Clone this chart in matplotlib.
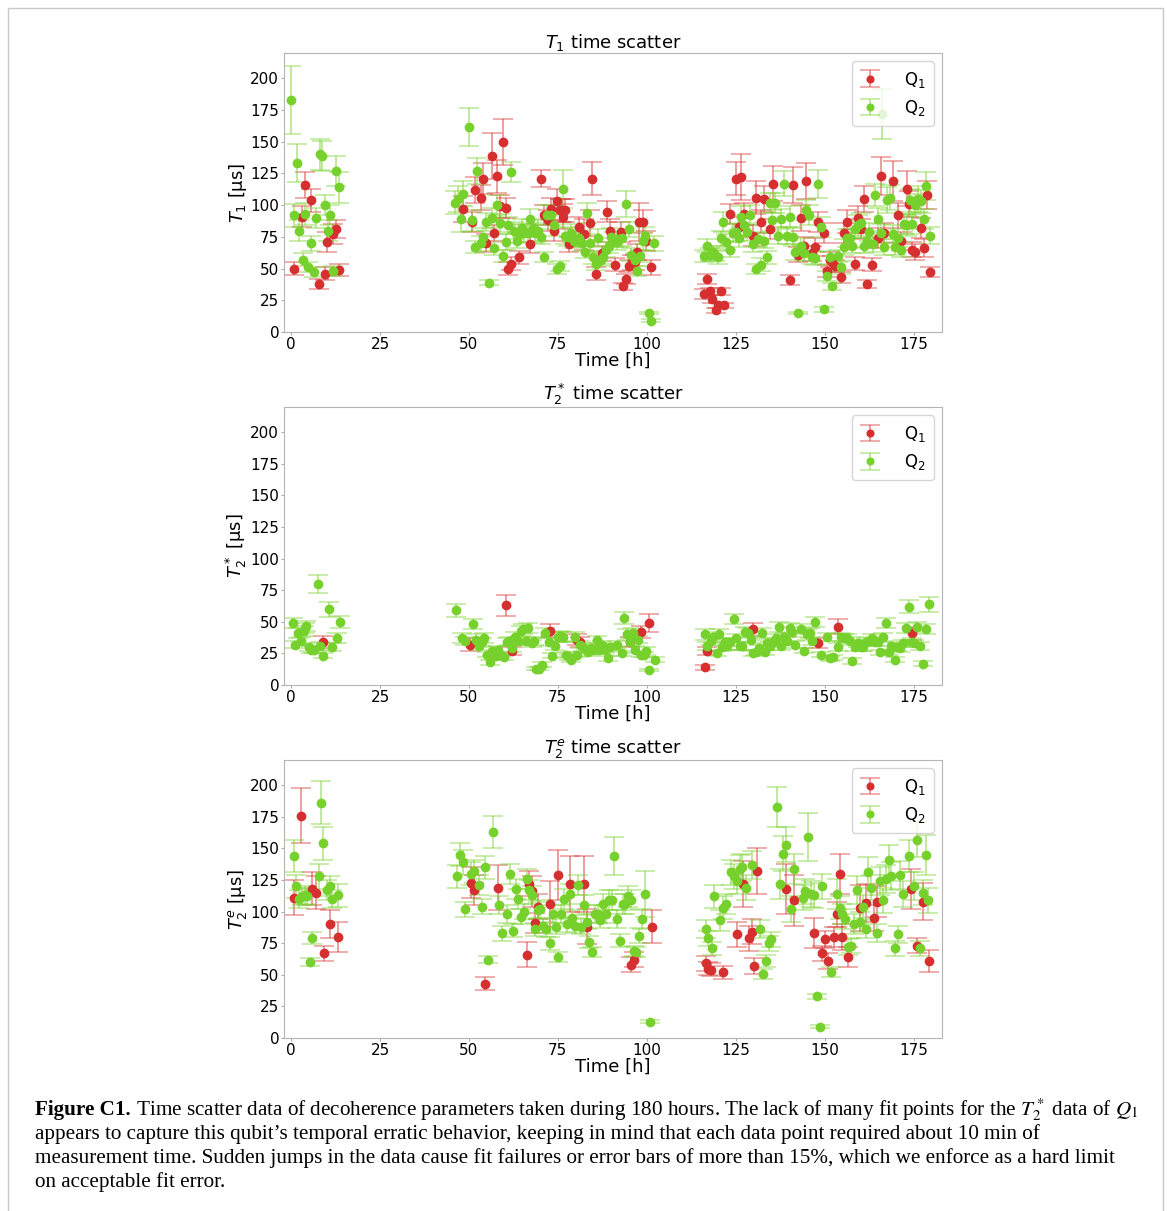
#!/usr/bin/env python3
import numpy as np
import matplotlib
matplotlib.use("Agg")
import matplotlib.pyplot as plt
from matplotlib.patches import Rectangle
from matplotlib.colors import to_rgba

# Each row: time [h], value [us], error [us]
t1_q1 = [
    [0.8, 50, 5], [3.2, 91, 8], [4.0, 116, 10], [5.5, 104, 9], [7.9, 38, 4], [9.5, 46, 5],
    [10.2, 71, 8], [11.8, 77, 8], [12.6, 81, 7], [13.4, 49, 5],
    [48.4, 97, 10], [50.8, 87, 8], [51.6, 112, 10], [53.3, 106, 10], [54.0, 121, 12], [54.8, 70, 7],
    [56.4, 139, 18], [57.1, 78, 6], [58.0, 123, 13], [58.7, 99, 9], [59.5, 150, 18], [60.3, 98, 8],
    [61.1, 50, 5], [61.8, 54, 5], [64.1, 59, 5], [67.2, 69, 7], [70.3, 121, 7], [71.1, 92, 8],
    [72.3, 88, 8], [73.1, 97, 9], [74.0, 80, 8], [74.7, 103, 10], [75.5, 96, 9], [76.3, 96, 9],
    [76.4, 91, 10], [77.1, 96, 9], [78.0, 69, 6], [81.0, 83, 8], [82.4, 77, 12], [84.1, 86, 10],
    [84.7, 121, 13], [85.6, 46, 5], [87.3, 62, 6], [88.8, 95, 8], [89.7, 80, 9], [91.2, 53, 5],
    [92.7, 79, 8], [93.3, 36, 3], [94.2, 42, 4], [95.0, 52, 5], [95.8, 55, 6], [96.6, 55, 6],
    [97.3, 63, 6], [97.9, 87, 15], [98.9, 87, 9], [99.9, 72, 8], [101.2, 51, 6],
    [116.0, 30, 4], [116.8, 42, 4], [117.7, 32, 3], [118.4, 26, 3], [119.4, 17, 2], [120.1, 21, 2],
    [120.9, 32, 3], [121.6, 21, 2],
    [123.3, 93, 8], [125.0, 121, 13], [125.8, 83, 8], [126.6, 122, 18], [127.4, 93, 9], [129.8, 76, 8],
    [130.6, 106, 13], [132.1, 87, 9], [132.9, 105, 10], [134.6, 81, 8], [135.4, 117, 14], [140.2, 41, 4],
    [141.0, 116, 14], [142.5, 61, 6], [143.3, 90, 10], [144.1, 68, 7], [144.9, 119, 14], [146.4, 62, 6],
    [147.2, 67, 7], [148.0, 87, 8], [149.7, 78, 8], [150.6, 48, 5], [151.4, 57, 6], [152.2, 55, 5],
    [153.0, 52, 5], [154.6, 43, 4], [155.5, 78, 8], [156.2, 87, 9], [158.6, 54, 5], [159.4, 90, 9],
    [160.2, 81, 8], [161.0, 105, 10], [161.8, 38, 3], [163.4, 53, 5], [165.1, 74, 8], [165.9, 123, 15],
    [166.7, 78, 8], [169.1, 119, 16], [170.7, 92, 10], [171.4, 72, 7], [173.1, 113, 14], [173.8, 101, 10],
    [174.7, 65, 6], [175.5, 63, 6], [177.1, 82, 8], [177.8, 66, 7], [178.7, 108, 11], [179.5, 47, 4],
]

t1_q2 = [
    [0.0, 183, 27], [0.8, 92, 9], [1.6, 133, 15], [2.1, 80, 8], [3.3, 57, 5], [4.0, 93, 9],
    [4.8, 51, 4], [5.6, 70, 6], [6.4, 47, 4], [7.1, 90, 8], [8.0, 140, 12], [8.7, 139, 12],
    [9.6, 100, 8], [10.3, 80, 8], [11.0, 92, 8], [11.8, 48, 4], [12.6, 127, 12], [13.4, 114, 12],
    [46.2, 102, 9], [46.8, 105, 10], [47.7, 89, 10], [48.4, 109, 10], [50.1, 162, 15], [50.8, 88, 8],
    [51.7, 67, 5], [52.4, 127, 10], [53.3, 70, 6], [54.0, 75, 7], [54.8, 87, 7], [55.6, 39, 2],
    [56.4, 90, 8], [57.1, 66, 5], [58.0, 100, 8], [58.7, 86, 7], [59.5, 60, 5], [60.3, 71, 6],
    [61.1, 84, 7], [61.8, 126, 8], [62.6, 80, 7], [63.4, 72, 6], [64.1, 77, 7], [64.9, 82, 7],
    [65.6, 78, 7], [66.5, 78, 7], [67.2, 89, 8], [68.0, 82, 7], [68.7, 78, 8], [69.5, 80, 8],
    [70.3, 75, 6], [71.0, 59, 4], [72.0, 92, 8], [73.0, 92, 8], [73.9, 84, 8], [74.7, 50, 4],
    [75.6, 52, 4], [76.4, 113, 15], [77.1, 76, 7], [77.9, 75, 7], [78.7, 78, 7], [79.4, 72, 6],
    [80.2, 73, 6], [81.0, 74, 6], [81.7, 70, 6], [82.5, 63, 5], [83.3, 94, 8], [84.1, 70, 7],
    [84.9, 59, 5], [85.6, 54, 5], [86.4, 74, 7], [87.2, 57, 5], [87.8, 59, 5], [88.5, 65, 6],
    [89.3, 68, 6], [90.0, 75, 7], [90.8, 73, 6], [91.5, 71, 6], [92.3, 73, 6], [93.0, 74, 6],
    [94.2, 101, 10], [95.0, 81, 6], [95.7, 61, 5], [96.6, 57, 5], [97.3, 48, 4], [98.0, 60, 5],
    [98.9, 72, 7], [99.6, 76, 7], [100.5, 15, 1], [101.2, 9, 1], [102.0, 70, 6],
    [116.0, 60, 5], [116.8, 68, 5], [117.7, 61, 5], [118.6, 63, 5], [119.2, 61, 5], [120.0, 59, 5],
    [120.9, 74, 6], [121.5, 87, 8], [122.4, 71, 6], [123.3, 65, 6], [124.1, 78, 7], [125.0, 79, 7],
    [125.8, 74, 7], [126.6, 91, 8], [127.4, 84, 8], [128.1, 79, 7], [129.0, 92, 8], [129.8, 69, 6],
    [130.6, 50, 4], [131.4, 73, 6], [132.1, 53, 5], [132.9, 72, 6], [133.8, 59, 5], [134.6, 102, 8],
    [135.3, 88, 8], [136.1, 102, 8], [136.9, 76, 7], [137.8, 89, 8], [138.6, 117, 10], [139.4, 76, 7],
    [140.2, 91, 8], [141.0, 75, 7], [141.8, 63, 6], [142.5, 15, 1], [143.3, 68, 6], [144.1, 62, 6],
    [144.9, 96, 8], [145.7, 92, 8], [146.4, 59, 5], [147.2, 58, 5], [148.0, 117, 11], [148.9, 83, 8],
    [149.7, 18, 2], [150.6, 44, 4], [151.4, 59, 5], [152.2, 36, 3], [153.9, 60, 5], [154.6, 51, 5],
    [155.5, 67, 6], [156.2, 74, 7], [157.0, 74, 7], [157.8, 68, 6], [158.6, 81, 7], [159.4, 84, 8],
    [160.2, 86, 8], [161.0, 68, 6], [161.9, 72, 6], [162.6, 79, 7], [163.6, 69, 6], [164.3, 108, 9],
    [165.1, 89, 9], [165.9, 78, 7], [166.0, 172, 20], [166.8, 67, 6], [167.5, 104, 10], [168.3, 106, 10],
    [169.1, 77, 7], [169.9, 67, 6], [170.7, 74, 7], [171.5, 65, 6], [172.3, 85, 8], [173.1, 84, 8],
    [173.9, 104, 9], [174.7, 85, 8], [175.5, 100, 9], [176.3, 105, 10], [177.1, 103, 9], [177.8, 89, 8],
    [178.6, 115, 11], [179.5, 76, 7],
]

t2s_q1 = [
    [8.9, 34, 5], [50.4, 32, 5], [60.5, 63, 8], [62.1, 27, 3], [72.7, 43, 5], [80.5, 36, 4],
    [81.2, 34, 4], [95.2, 34, 4], [98.3, 42, 5], [100.7, 49, 7], [116.3, 14, 2], [117.0, 27, 3],
    [130.0, 44, 5], [148.2, 33, 4], [153.8, 46, 6], [174.5, 41, 5],
]

t2s_q2 = [
    [0.5, 49, 4], [1.1, 32, 3], [1.9, 41, 4], [2.7, 35, 3], [3.5, 43, 4], [3.9, 45, 4],
    [4.3, 47, 4], [5.0, 30, 3], [5.6, 28, 3], [6.4, 28, 3], [7.5, 80, 7], [8.2, 31, 3],
    [8.9, 23, 2], [10.6, 60, 6], [11.4, 30, 3], [13.0, 37, 4], [13.8, 50, 5],
    [46.4, 59, 5], [48.1, 37, 4], [49.0, 35, 3], [51.2, 48, 4], [52.0, 36, 4], [52.8, 31, 3],
    [53.6, 34, 3], [54.3, 37, 4], [55.0, 24, 2], [55.9, 18, 2], [56.6, 27, 3], [57.5, 23, 2],
    [58.2, 28, 3], [59.1, 24, 2], [59.8, 22, 2], [60.6, 34, 3], [61.3, 35, 3], [62.1, 29, 3],
    [62.9, 38, 4], [63.8, 35, 3], [64.5, 43, 4], [65.3, 44, 4], [66.0, 35, 3], [66.7, 45, 4],
    [67.6, 33, 3], [68.4, 35, 3], [68.8, 13, 1], [69.6, 13, 1], [70.4, 16, 2], [71.3, 41, 4],
    [72.6, 34, 3], [73.3, 23, 2], [74.1, 31, 3], [74.9, 38, 4], [75.7, 39, 4], [76.5, 38, 4],
    [77.2, 24, 2], [78.0, 22, 2], [78.8, 20, 2], [79.7, 38, 4], [80.4, 24, 2], [81.2, 32, 3],
    [82.0, 30, 3], [82.8, 28, 3], [83.5, 26, 3], [84.4, 29, 3], [85.1, 28, 3], [85.9, 36, 3],
    [86.7, 28, 3], [87.5, 32, 3], [88.3, 28, 3], [89.1, 21, 2], [89.6, 30, 3], [91.5, 32, 3],
    [92.9, 25, 2], [93.7, 53, 5], [94.5, 40, 4], [95.2, 34, 3], [96.2, 41, 4], [96.8, 28, 3],
    [97.6, 36, 3], [98.3, 24, 2], [99.1, 24, 2], [99.9, 27, 3], [100.7, 12, 1], [102.2, 20, 2],
    [116.3, 40, 4], [117.0, 31, 3], [118.0, 35, 3], [118.6, 38, 4], [119.6, 25, 2], [120.3, 40, 4],
    [121.1, 30, 3], [121.9, 34, 3], [122.6, 31, 3], [123.4, 34, 3], [124.4, 52, 4], [125.2, 37, 3],
    [126.1, 31, 3], [126.9, 31, 3], [127.5, 42, 4], [128.4, 41, 4], [129.2, 36, 3], [130.0, 25, 2],
    [130.8, 26, 2], [131.5, 29, 3], [132.4, 41, 4], [133.1, 26, 2], [133.9, 33, 3], [134.7, 31, 3],
    [135.4, 34, 3], [136.3, 37, 3], [137.1, 46, 4], [137.8, 31, 3], [138.7, 38, 3], [139.4, 35, 3],
    [140.2, 45, 4], [140.9, 42, 4], [141.7, 32, 3], [143.3, 44, 4], [144.2, 27, 2], [145.0, 40, 4],
    [145.8, 41, 4], [146.5, 35, 3], [147.4, 50, 4], [149.0, 24, 2], [150.6, 38, 3], [151.4, 21, 2],
    [152.3, 22, 2], [153.8, 30, 3], [154.6, 38, 3], [155.4, 37, 3], [156.2, 37, 3], [157.0, 35, 3],
    [157.8, 19, 2], [158.6, 30, 3], [159.4, 33, 3], [160.1, 30, 3], [160.9, 30, 3], [161.7, 34, 3],
    [162.5, 35, 3], [163.2, 37, 3], [164.1, 34, 3], [164.9, 34, 3], [165.7, 26, 2], [166.4, 38, 3],
    [167.3, 49, 4], [168.0, 26, 2], [168.8, 31, 3], [169.7, 20, 2], [170.4, 30, 3], [171.2, 29, 3],
    [172.0, 33, 3], [172.8, 45, 4], [173.7, 62, 5], [174.5, 34, 3], [175.2, 33, 3], [176.0, 46, 4],
    [176.8, 31, 3], [177.7, 17, 2], [178.5, 44, 4], [179.3, 64, 6],
]

t2e_q1 = [
    [0.7, 111, 14], [2.9, 176, 22], [6.0, 118, 13], [6.9, 115, 13], [9.2, 67, 6], [10.8, 90, 11],
    [13.2, 80, 12],
    [50.7, 123, 12], [51.5, 117, 12], [54.5, 43, 5], [58.1, 119, 18], [66.2, 66, 10], [67.0, 122, 10],
    [67.7, 116, 12], [68.5, 91, 8], [69.3, 104, 10], [72.8, 106, 18], [75.1, 129, 20], [78.3, 122, 22],
    [82.3, 122, 22], [83.1, 88, 14], [95.5, 58, 6], [96.3, 62, 6], [101.6, 88, 13],
    [116.6, 59, 6], [117.2, 55, 5], [118.0, 54, 5], [121.4, 52, 5], [125.4, 82, 10], [127.1, 122, 18],
    [128.7, 79, 10], [129.5, 84, 10], [130.2, 57, 6], [131.1, 132, 18], [139.1, 118, 20], [141.4, 109, 20],
    [147.0, 83, 12], [149.4, 67, 6], [150.2, 78, 7], [151.0, 61, 6], [152.5, 80, 8], [153.4, 98, 10],
    [154.2, 130, 16], [155.0, 80, 10], [156.7, 64, 8], [159.9, 103, 18], [161.5, 107, 15], [163.8, 95, 10],
    [164.6, 108, 12], [174.4, 118, 16], [176.0, 73, 6], [177.6, 108, 15], [179.3, 61, 9],
]

t2e_q2 = [
    [0.7, 144, 13], [1.4, 120, 9], [2.3, 110, 7], [3.1, 112, 7], [3.8, 113, 7], [4.6, 112, 7],
    [5.2, 60, 3], [6.0, 79, 5], [7.7, 128, 10], [8.4, 186, 17], [9.1, 154, 13], [10.0, 117, 8],
    [10.8, 120, 8], [11.5, 110, 7], [13.2, 113, 9],
    [46.7, 128, 9], [47.5, 145, 9], [48.2, 139, 10], [49.0, 102, 6], [50.7, 130, 9], [51.4, 132, 9],
    [52.9, 121, 8], [53.8, 104, 6], [54.5, 135, 9], [55.3, 62, 3], [56.8, 163, 13], [58.4, 105, 7],
    [59.2, 83, 6], [60.8, 98, 7], [61.5, 130, 8], [62.3, 85, 5], [63.1, 118, 8], [63.9, 110, 8],
    [64.6, 96, 6], [65.4, 100, 6], [66.2, 126, 8], [67.0, 117, 8], [67.7, 113, 7], [68.5, 86, 5],
    [69.3, 101, 7], [70.0, 102, 7], [70.9, 89, 6], [71.6, 86, 6], [72.8, 75, 5], [73.6, 98, 7],
    [74.4, 88, 6], [75.1, 64, 4], [75.9, 98, 7], [76.8, 110, 8], [77.5, 90, 6], [78.3, 114, 8],
    [79.1, 95, 6], [79.9, 89, 6], [80.6, 121, 8], [81.5, 88, 6], [82.3, 105, 8], [83.1, 92, 6],
    [83.8, 76, 5], [84.7, 68, 4], [85.4, 98, 7], [86.2, 98, 7], [86.9, 93, 6], [87.7, 106, 8],
    [88.5, 98, 7], [89.3, 109, 8], [90.1, 109, 8], [90.8, 144, 15], [91.7, 94, 7], [92.4, 77, 5],
    [93.2, 106, 8], [94.0, 106, 8], [94.8, 112, 8], [95.6, 109, 8], [96.4, 69, 4], [97.1, 68, 4],
    [97.9, 81, 6], [98.7, 94, 8], [99.5, 114, 18], [100.8, 13, 1],
    [116.6, 86, 7], [117.3, 79, 6], [118.2, 71, 5], [119.0, 112, 9], [120.6, 93, 8], [121.4, 103, 9],
    [122.2, 106, 8], [123.8, 131, 10], [124.4, 128, 10], [125.4, 124, 10], [126.1, 134, 11], [126.9, 135, 11],
    [127.8, 119, 10], [129.5, 137, 11], [131.8, 86, 7], [132.6, 51, 4], [133.5, 61, 5], [134.3, 75, 6],
    [135.0, 78, 6], [136.6, 183, 16], [137.4, 122, 12], [138.3, 146, 14], [139.0, 153, 14], [140.6, 102, 10],
    [141.4, 134, 12], [143.8, 111, 10], [144.6, 116, 10], [145.4, 159, 19], [146.2, 114, 10], [147.0, 113, 10],
    [147.8, 33, 2], [148.6, 9, 1], [149.4, 120, 10], [151.8, 52, 4], [153.4, 114, 12], [154.2, 103, 9],
    [155.0, 98, 8], [155.8, 94, 8], [156.6, 72, 6], [157.4, 73, 6], [158.3, 90, 8], [159.2, 117, 11],
    [159.9, 92, 8], [160.7, 104, 9], [161.5, 86, 7], [162.3, 131, 12], [163.1, 119, 10], [164.7, 83, 7],
    [165.6, 124, 11], [166.4, 109, 10], [167.2, 126, 11], [168.1, 141, 12], [168.8, 128, 11], [169.7, 71, 6],
    [170.5, 82, 7], [171.1, 129, 11], [171.9, 114, 10], [173.6, 144, 13], [175.2, 120, 11], [176.0, 157, 14],
    [176.9, 71, 6], [177.6, 115, 10], [178.5, 145, 16], [179.2, 109, 10],
]

panels = [
    ("$T_1$ time scatter", "$T_1$ [µs]", t1_q1, t1_q2),
    ("$T_2^*$ time scatter", "$T_2^*$ [µs]", t2s_q1, t2s_q2),
    ("$T_2^e$ time scatter", "$T_2^e$ [µs]", t2e_q1, t2e_q2),
]

red = "#d62f2f"
green = "#77d12c"

W, H = 1167, 1211
fig = plt.figure(figsize=(W / 100, H / 100), dpi=100)

# axes placement in pixels: (top, bottom)
ax_left, ax_right = 284, 942
ax_rows = [(53, 332), (407, 685), (760, 1038)]

for (title, ylabel, q1, q2), (top, bot) in zip(panels, ax_rows):
    ax = fig.add_axes([ax_left / W, 1 - bot / H, (ax_right - ax_left) / W, (bot - top) / H])
    for data, col, lab in [(q1, red, "Q$_1$"), (q2, green, "Q$_2$")]:
        arr = np.array(data, dtype=float)
        ax.errorbar(arr[:, 0], arr[:, 1], yerr=arr[:, 2], fmt="o", color=col, markersize=6,
                    ecolor=to_rgba(col, 0.5), elinewidth=1.3, capsize=7, capthick=1.1, label=lab)
    ax.set_xlim(-2, 183)
    ax.set_ylim(0, 220)
    ax.set_xticks(np.arange(0, 176, 25))
    ax.set_yticks(np.arange(0, 201, 25))
    ax.tick_params(labelsize=11, color="#aaaaaa", length=2, pad=1.5)
    for sp in ax.spines.values():
        sp.set_color("#b5b5b5")
    ax.set_title(title, fontsize=13, pad=0.5)
    ax.set_xlabel("Time [h]", fontsize=13, labelpad=0)
    ax.set_ylabel(ylabel, fontsize=13, labelpad=1)
    ax.legend(loc="upper right", fontsize=12, handlelength=1.2, handletextpad=1.4,
              markerscale=0.8, borderpad=0.5)

# caption below the panels
cap_x = 35 / W
cap_size = 15.2
serif = ["Liberation Serif", "DejaVu Serif"]
rest_lines = [
    " Time scatter data of decoherence parameters taken during 180 hours. The lack of many fit points for the $T_2^*$ data of $Q_1$",
    "appears to capture this qubit’s temporal erratic behavior, keeping in mind that each data point required about 10 min of",
    "measurement time. Sudden jumps in the data cause fit failures or error bars of more than 15%, which we enforce as a hard limit",
    "on acceptable fit error.",
]
baselines = [1115, 1139, 1163, 1187]

bold = fig.text(cap_x, 1 - baselines[0] / H, "Figure C1.", fontsize=cap_size, fontweight="bold",
                family=serif, va="baseline")
renderer = fig.canvas.get_renderer()
bb = bold.get_window_extent(renderer)
fig.text(bb.x1 / W, 1 - baselines[0] / H, rest_lines[0], fontsize=cap_size, family=serif,
         va="baseline", math_fontfamily="stix")
for line, yb in zip(rest_lines[1:], baselines[1:]):
    fig.text(cap_x, 1 - yb / H, line, fontsize=cap_size, family=serif, va="baseline",
             math_fontfamily="stix")

# thin frame around the figure
fig.patches.append(Rectangle((8 / W, -0.01), (1163 - 8) / W, 1.01 - 8 / H, transform=fig.transFigure,
                             fill=False, edgecolor="#c8c8c8", linewidth=1.0))

fig.savefig("out.png", dpi=100)
